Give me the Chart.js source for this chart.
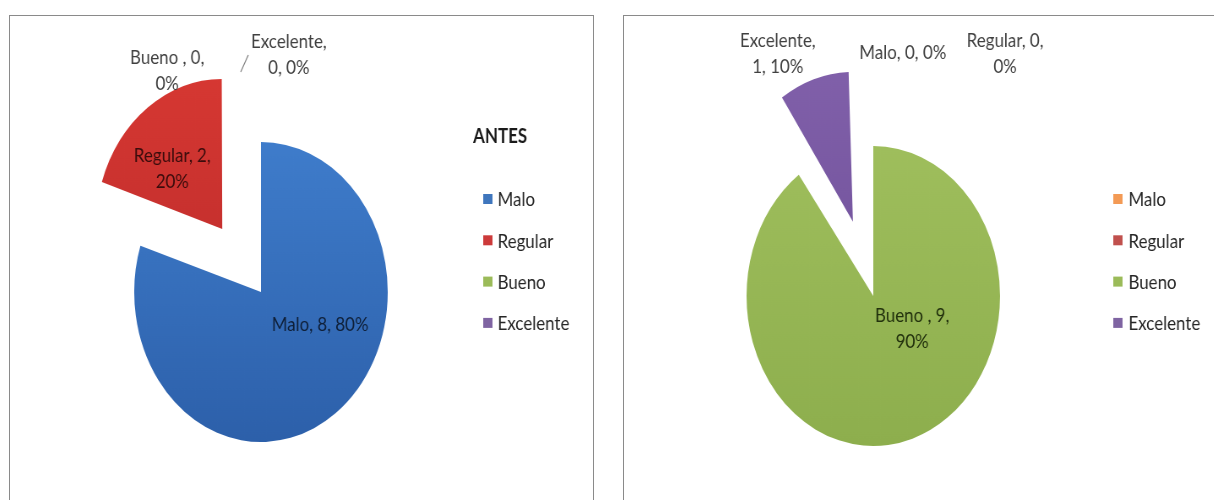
<!DOCTYPE html>
<html><head><meta charset="utf-8">
<script src="https://cdn.jsdelivr.net/npm/chart.js@4.4.1/dist/chart.umd.min.js"></script>
<style>
html,body{margin:0;padding:0;background:#fff;width:1214px;height:500px;overflow:hidden;position:relative;}
.panel{position:absolute;top:15px;height:520px;border:1px solid #8a8a8a;box-sizing:border-box;}
.wrap{position:absolute;top:0;height:500px;transform:scaleX(0.845);transform-origin:0 0;}
canvas{display:block;}
</style></head><body>
<div class="panel" style="left:9px;width:585px"></div>
<div class="panel" style="left:623px;width:620px"></div>
<div class="wrap" style="left:10px;width:691px"><canvas id="c1" width="691" height="500"></canvas></div>
<div class="wrap" style="left:624px;width:698px"><canvas id="c2" width="698" height="500"></canvas></div>
<script>
// ---- data ----
const categories = ['Malo', 'Regular', 'Bueno', 'Excelente'];
const labelNames = ['Malo', 'Regular', 'Bueno ', 'Excelente'];
const antesValues = [8, 2, 0, 0];
const despuesValues = [0, 0, 9, 1];
const antesTitle = 'ANTES';

// ---- styles ----
const antesColors = [['#4383d3', '#2c5fa9'], ['#dd3b34', '#b7292a'], ['#a2c15e', '#8fb04e'], ['#8563ad', '#6f4f98']];
const despuesColors = [['#f7a05a', '#e58a3c'], ['#c4524f', '#a94341'], ['#a3c260', '#8dae4d'], ['#8564ae', '#6d4e97']];
const antesLegendColors = ['#3f76bd', '#cc3a3a', '#9bbb59', '#7f64a2'];
const despuesLegendColors = ['#f39a55', '#c0504d', '#9bbb59', '#7f64a2'];
const FONT = '"Lato", "Open Sans", sans-serif';

function grad(pairs) {
  return (c) => {
    const p = pairs[c.dataIndex];
    const g = c.chart.ctx.createLinearGradient(0, 70, 0, 450);
    g.addColorStop(0, p[0]);
    g.addColorStop(1, p[1]);
    return g;
  };
}

// keep exploded slices at the same radius as the others
const explodeFix = {
  id: 'explodeFix',
  afterUpdate(chart) {
    const meta = chart.getDatasetMeta(0);
    meta.data.forEach(arc => {
      const off = (arc.options && arc.options.offset) || 0;
      if (off > 0 && arc.circumference > 0) {
        const fix = 1 - Math.sin(Math.min(Math.PI, arc.circumference));
        arc.outerRadius = arc.outerRadius - (off / 4) * fix;
      }
    });
  }
};

const pieLabels = {
  id: 'pieLabels',
  afterDatasetsDraw(chart, args, opts) {
    const ctx = chart.ctx;
    const meta = chart.getDatasetMeta(0);
    const ds = chart.data.datasets[0];
    const total = ds.data.reduce((a, b) => a + b, 0);
    const cx = meta.data[0].x, cy = meta.data[0].y;
    ctx.save();
    ctx.font = opts.font;
    ctx.textAlign = 'center';
    ctx.textBaseline = 'middle';
    meta.data.forEach((arc, i) => {
      const v = ds.data[i];
      const pct = Math.round(v / total * 100);
      const name = opts.names[i];
      let lines;
      const brk = opts.breaks[i];
      if (brk === 0) lines = [name + ', ' + v + ', ' + pct + '%'];
      else if (brk === 1) lines = [name + ',', v + ', ' + pct + '%'];
      else lines = [name + ', ' + v + ',', pct + '%'];
      const [dx, dy] = opts.pos[i];
      ctx.fillStyle = opts.colors[i];
      lines.forEach((t, k) => ctx.fillText(t, cx + dx, cy + dy + (k - (lines.length - 1) / 2) * opts.lineHeight));
    });
    (opts.leaders || []).forEach(l => {
      ctx.strokeStyle = '#7f7f7f';
      ctx.lineWidth = 1.2;
      ctx.beginPath();
      ctx.moveTo(cx + l[0], cy + l[1]);
      ctx.lineTo(cx + l[2], cy + l[3]);
      ctx.stroke();
    });
    ctx.restore();
  }
};

const boxLegend = {
  id: 'boxLegend',
  afterDraw(chart, args, opts) {
    const ctx = chart.ctx;
    ctx.save();
    ctx.textBaseline = 'middle';
    if (opts.title) {
      ctx.font = opts.titleFont;
      ctx.fillStyle = '#1a1a1a';
      ctx.textAlign = 'center';
      ctx.fillText(opts.title, opts.titleX, opts.titleY);
    }
    chart.data.labels.forEach((lab, i) => {
      const y = opts.y0 + i * opts.dy;
      ctx.fillStyle = opts.boxColors[i];
      ctx.fillRect(opts.x, y - 5, 11, 10);
      ctx.fillStyle = '#262626';
      ctx.font = opts.font;
      ctx.textAlign = 'left';
      ctx.fillText(lab, opts.x + opts.gap, y + 1);
    });
    ctx.restore();
  }
};

function makePie(id, values, colors, explode, pad, labelOpts, legendOpts) {
  return new Chart(document.getElementById(id), {
    type: 'pie',
    data: {
      labels: categories,
      datasets: [{
        data: values,
        backgroundColor: grad(colors),
        borderWidth: 0,
        offset: explode,
        radius: 150
      }]
    },
    options: {
      responsive: false,
      devicePixelRatio: 1,
      animation: false,
      radius: 150,
      layout: { padding: pad },
      events: [],
      plugins: {
        legend: { display: false },
        tooltip: { enabled: false },
        pieLabels: labelOpts,
        boxLegend: legendOpts
      }
    },
    plugins: [explodeFix, pieLabels, boxLegend]
  });
}

makePie('c1', antesValues, antesColors, [0, 312, 0, 0],
  { left: 0, right: 97, top: 84, bottom: 0 },
  {
    font: '20px ' + FONT,
    lineHeight: 26,
    names: labelNames,
    breaks: [0, 2, 2, 1],
    pos: [[70, 33], [-105, -123], [-111, -221], [33, -237]],
    colors: ['#0f2039', '#3a0c0c', '#404040', '#404040'],
    leaders: [[-24, -220, -15, -237]]
  },
  {
    title: antesTitle, titleFont: 'bold 20px ' + FONT, titleX: 580, titleY: 137,
    x: 560, gap: 17, y0: 199, dy: 41.3, font: '20px ' + FONT, boxColors: antesLegendColors
  });

makePie('c2', despuesValues, despuesColors, [0, 0, 0, 312],
  { left: 0, right: 108, top: 92, bottom: 0 },
  {
    font: '20px ' + FONT,
    lineHeight: 26,
    names: labelNames,
    breaks: [0, 2, 2, 1],
    pos: [[35, -243], [156, -242], [46, 33], [-113, -242]],
    colors: ['#404040', '#404040', '#22310d', '#404040'],
    leaders: []
  },
  {
    title: '', x: 579, gap: 18, y0: 199, dy: 41.3, font: '20px ' + FONT, boxColors: despuesLegendColors
  });
</script>
</body></html>
